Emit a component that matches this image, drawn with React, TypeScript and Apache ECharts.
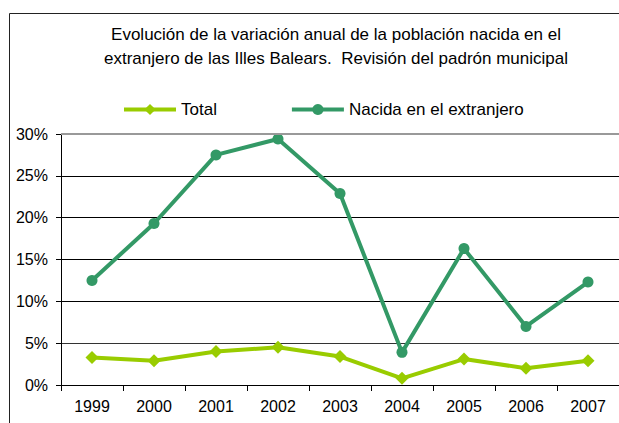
import React, { useEffect, useRef } from "react";
import * as echarts from "echarts";

const years = ["1999", "2000", "2001", "2002", "2003", "2004", "2005", "2006", "2007"];
const totalValues = [3.3, 2.9, 4.0, 4.5, 3.4, 0.8, 3.1, 2.0, 2.9];
const foreignValues = [12.5, 19.3, 27.5, 29.4, 22.9, 3.9, 16.3, 7.0, 12.3];
const seriesNames = ["Total", "Nacida en el extranjero"];
const titleText =
  "Evolución de la variación anual de la población nacida en el\nextranjero de las Illes Balears.  Revisión del padrón municipal";

const FONT = "'Liberation Sans', Arial, sans-serif";

export default function App() {
  const ref = useRef<HTMLDivElement>(null);
  useEffect(() => {
    document.body.style.margin = "0";
    const chart = echarts.init(ref.current!, null, { renderer: "svg" });
    chart.setOption({
      animation: false,
      backgroundColor: "#fff",
      textStyle: { fontFamily: FONT },
      graphic: [
        {
          type: "rect",
          shape: { x: 9.5, y: 13.5, width: 700, height: 500 },
          style: { fill: "none", stroke: "#222", lineWidth: 1 },
          z: -1,
        },
      ],
      title: {
        text: titleText,
        left: 336,
        top: 22,
        padding: 0,
        textAlign: "center",
        textStyle: {
          fontFamily: FONT,
          fontSize: 17,
          fontWeight: "normal",
          color: "#000",
          lineHeight: 24,
        },
      },
      legend: {
        left: 122,
        top: 101,
        padding: 0,
        itemWidth: 52,
        itemHeight: 14,
        itemGap: 73,
        lineStyle: { width: 4 },
        textStyle: { fontFamily: FONT, fontSize: 17, color: "#000" },
        data: seriesNames,
      },
      grid: { left: 61, top: 134, right: -1, bottom: 38, containLabel: false },
      xAxis: {
        type: "category",
        data: years,
        boundaryGap: true,
        axisLine: { lineStyle: { color: "#000", width: 1 } },
        axisTick: { show: true, length: 6, lineStyle: { color: "#000" } },
        axisLabel: { fontFamily: FONT, fontSize: 16, color: "#000", margin: 13 },
        splitLine: { show: false },
      },
      yAxis: {
        type: "value",
        min: 0,
        max: 30,
        interval: 5,
        axisLine: { show: true, lineStyle: { color: "#000", width: 1 } },
        axisTick: { show: true, length: 5, lineStyle: { color: "#000" } },
        axisLabel: {
          fontFamily: FONT,
          fontSize: 16,
          color: "#000",
          margin: 13,
          formatter: (v: number) => v + "%",
        },
        splitLine: {
          show: true,
          lineStyle: { color: ["#000", "#333", "#000", "#000", "#000", "#000", "#999"], width: 1 },
        },
      },
      series: [
        {
          name: seriesNames[0],
          type: "line",
          data: totalValues,
          symbol: "diamond",
          symbolSize: 13,
          lineStyle: { color: "#99cc00", width: 4 },
          itemStyle: { color: "#99cc00" },
          z: 3,
        },
        {
          name: seriesNames[1],
          type: "line",
          data: foreignValues,
          symbol: "circle",
          symbolSize: 11,
          lineStyle: { color: "#339966", width: 4 },
          itemStyle: { color: "#339966" },
          z: 4,
          markLine: {
            silent: true,
            symbol: "none",
            label: { show: false },
            lineStyle: { color: "#999", width: 2, type: "solid" },
            data: [{ yAxis: 30 }],
          },
        },
      ],
    });
    return () => chart.dispose();
  }, []);
  return <div ref={ref} style={{ width: 619, height: 423 }} />;
}
